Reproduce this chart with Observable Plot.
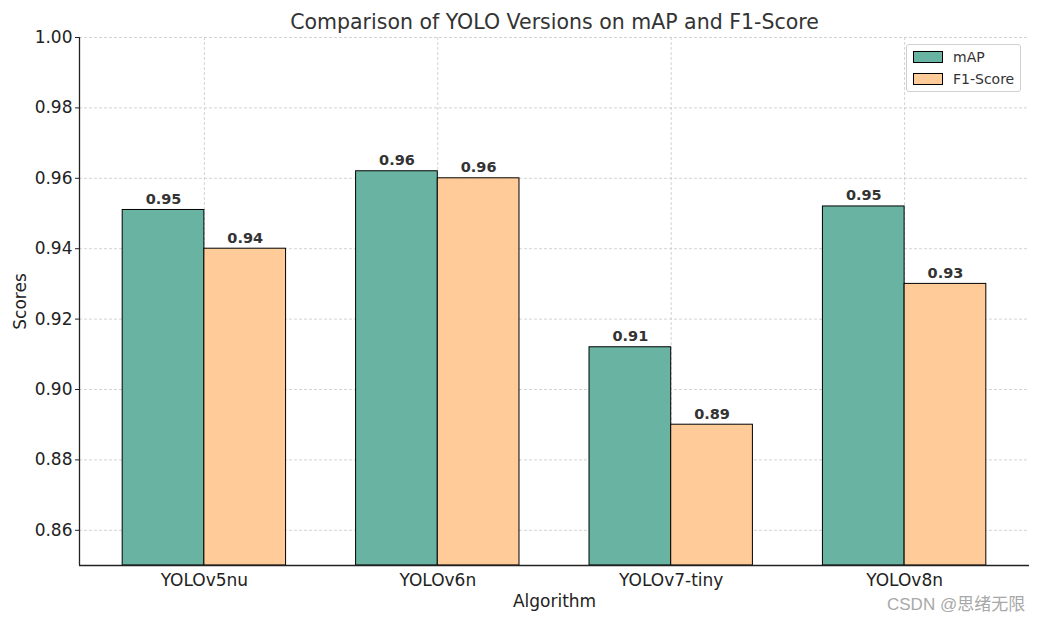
<!DOCTYPE html>
<html><head><meta charset="utf-8">
<script src="https://cdn.jsdelivr.net/npm/d3@7"></script>
<script src="https://cdn.jsdelivr.net/npm/@observablehq/plot@0.6"></script>
<style>
body{margin:0;background:#fff;font-family:"DejaVu Sans",sans-serif;}
#wrap{position:relative;width:1039px;height:620px;overflow:hidden;}
#legend{position:absolute;left:906px;top:44px;width:115px;height:48px;border:1px solid #d0d0d0;border-radius:3px;background:rgba(255,255,255,0.85);box-sizing:border-box;font-family:"DejaVu Sans",sans-serif;font-size:14px;color:#333;}
#legend .row{position:absolute;left:6px;height:14px;display:flex;align-items:center;}
#legend .sw{width:28px;height:10px;border:1px solid #000;margin-right:10px;}
#wm{position:absolute;left:887px;top:590px;font-family:"Liberation Sans","Noto Sans CJK SC",sans-serif;font-size:17px;color:#a8a8a8;white-space:nowrap;}
</style></head><body>
<div id="wrap"></div>
<script>
const algorithms = ["YOLOv5nu", "YOLOv6n", "YOLOv7-tiny", "YOLOv8n"];
const mAP = [0.951, 0.962, 0.912, 0.952];
const f1Score = [0.940, 0.960, 0.890, 0.930];
const seriesNames = ["mAP", "F1-Score"];
const seriesColors = ["#69b3a2", "#ffcc99"];
const yTicks = [0.86, 0.88, 0.90, 0.92, 0.94, 0.96, 0.98, 1.00];
const titleText = "Comparison of YOLO Versions on mAP and F1-Score";
const watermark = "CSDN @思绪无限";

const barWidth = 0.35;
const yMin = 0.85, yMax = 1.0;
const idx = d3.range(algorithms.length);
const xDomain = [-barWidth - 0.185, algorithms.length - 1 + barWidth + 0.185];

const rows = [];
idx.forEach(i => {
  [mAP, f1Score].forEach((vals, s) => {
    const x1 = i - barWidth + s * barWidth;
    rows.push({alg: algorithms[i], series: seriesNames[s], value: vals[i], x1, x2: x1 + barWidth, xc: x1 + barWidth / 2});
  });
});

const chart = Plot.plot({
  width: 1039, height: 620,
  marginLeft: 79, marginRight: 10, marginTop: 37, marginBottom: 55,
  style: {fontFamily: "DejaVu Sans", fontSize: "17px", color: "#222", background: "#fff"},
  x: {domain: xDomain, ticks: idx, tickFormat: i => algorithms[i], tickSize: 0, tickPadding: 8,
      label: "Algorithm", labelAnchor: "center", labelOffset: 41, labelArrow: "none"},
  y: {domain: [yMin, yMax], ticks: yTicks, tickFormat: d => d.toFixed(2), tickSize: 4, tickPadding: 3,
      label: "Scores", labelAnchor: "center", labelOffset: 66, labelArrow: "none"},
  color: {domain: seriesNames, range: seriesColors},
  marks: [
    Plot.gridY(yTicks, {stroke: "#c8c8c8", strokeOpacity: 1, strokeWidth: 0.8, strokeDasharray: "3,2"}),
    Plot.gridX(idx, {stroke: "#c8c8c8", strokeOpacity: 1, strokeWidth: 0.8, strokeDasharray: "3,2"}),
    Plot.rect(rows, {x1: "x1", x2: "x2", y1: yMin, y2: "value", fill: "series", stroke: "#000", strokeWidth: 1}),
    Plot.text(rows, {x: "xc", y: "value", text: d => d.value.toFixed(2), lineAnchor: "bottom", dy: -6,
      fontWeight: "bold", fontSize: 14.5, fill: "#333"}),
    Plot.ruleX([xDomain[0]], {stroke: "#222", strokeWidth: 1.3}),
    Plot.ruleY([yMin], {stroke: "#222", strokeWidth: 1.3}),
    Plot.text([titleText], {frameAnchor: "top", dy: -23, fontSize: 20.5, fill: "#333"})
  ]
});

const wrap = document.getElementById("wrap");
wrap.appendChild(chart);

const legend = document.createElement("div");
legend.id = "legend";
seriesNames.forEach((n, s) => {
  const row = document.createElement("div");
  row.className = "row";
  row.style.top = (5 + s * 22) + "px";
  const sw = document.createElement("div");
  sw.className = "sw";
  sw.style.background = seriesColors[s];
  const t = document.createElement("span");
  t.textContent = n;
  row.appendChild(sw); row.appendChild(t);
  legend.appendChild(row);
});
wrap.appendChild(legend);

const wm = document.createElement("div");
wm.id = "wm";
wm.textContent = watermark;
wrap.appendChild(wm);
</script>
</body></html>
